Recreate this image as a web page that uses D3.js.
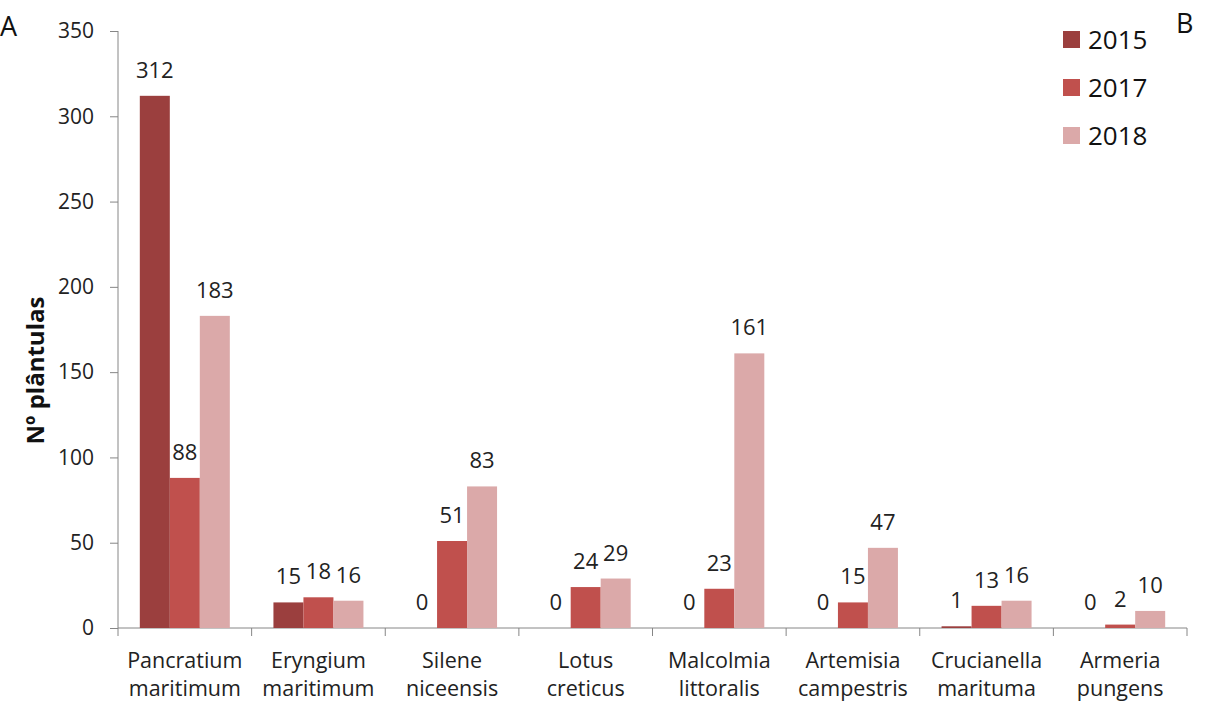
<!DOCTYPE html>
<html>
<head>
<meta charset="utf-8">
<script src="https://cdn.jsdelivr.net/npm/d3@7"></script>
<style>
  html, body { margin: 0; padding: 0; background: #fff; }
  svg { display: block; font-family: "Open Sans", sans-serif; }
</style>
</head>
<body>
<svg id="chart" width="1217" height="707"></svg>
<script>
// Seedling counts per species and survey year
const species = [
  ["Pancratium", "maritimum"],
  ["Eryngium", "maritimum"],
  ["Silene", "niceensis"],
  ["Lotus", "creticus"],
  ["Malcolmia", "littoralis"],
  ["Artemisia", "campestris"],
  ["Crucianella", "marituma"],
  ["Armeria", "pungens"]
];
const years = ["2015", "2017", "2018"];
const values2015 = [312, 15, 0, 0, 0, 0, 1, 0];
const values2017 = [88, 18, 51, 24, 23, 15, 13, 2];
const values2018 = [183, 16, 83, 29, 161, 47, 16, 10];
const yTicks = [0, 50, 100, 150, 200, 250, 300, 350];
const colors = ["#9b3f3e", "#c0504d", "#dba9a9"];

const series = [values2015, values2017, values2018];

const svg = d3.select("#chart");
const margin = { left: 118, right: 30, top: 31, bottom: 79 };
const W = 1217, H = 707;

const x = d3.scaleBand()
  .domain(d3.range(species.length))
  .range([margin.left, W - margin.right])
  .paddingInner(0).paddingOuter(0);

const bw = x.bandwidth();
const inner = d3.scaleBand()
  .domain(years)
  .range([0, bw])
  .paddingInner(0)
  .paddingOuter(0.727);

const y = d3.scaleLinear().domain([0, 350]).range([H - margin.bottom, margin.top]);

// Y axis
const yAxis = svg.append("g")
  .attr("transform", `translate(${margin.left},0)`)
  .call(d3.axisLeft(y).tickValues(yTicks).tickSize(8).tickPadding(16));
yAxis.selectAll("path, line").attr("stroke", "#868686");
yAxis.select(".domain").attr("d", `M0,${y(350)}V${y(0)}`);
yAxis.selectAll("text").attr("font-size", 21).attr("fill", "#222").attr("font-family", "'Open Sans', sans-serif");

// X axis baseline with category separators
const xg = svg.append("g");
xg.append("line")
  .attr("x1", margin.left).attr("x2", W - margin.right)
  .attr("y1", y(0)).attr("y2", y(0))
  .attr("stroke", "#868686");
const seps = d3.range(species.length + 1).map(i => i < species.length ? x(i) : x(i - 1) + bw);
xg.selectAll("line.sep").data(seps).join("line")
  .attr("class", "sep")
  .attr("x1", d => d).attr("x2", d => d)
  .attr("y1", y(0)).attr("y2", y(0) + 8)
  .attr("stroke", "#868686");

// Category labels (two lines)
const cat = svg.append("g").selectAll("text").data(species).join("text")
  .attr("x", (d, i) => x(i) + bw / 2)
  .attr("y", y(0) + 40)
  .attr("text-anchor", "middle")
  .attr("font-size", 21.5)
  .attr("fill", "#222");
cat.append("tspan").attr("x", (d, i) => x(i) + bw / 2).text(d => d[0]);
cat.append("tspan").attr("x", (d, i) => x(i) + bw / 2).attr("dy", 28).text(d => d[1]);

// Bars with value labels
const groups = svg.append("g").selectAll("g").data(series).join("g")
  .attr("fill", (d, i) => colors[i]);
groups.each(function (vals, si) {
  const g = d3.select(this);
  g.selectAll("rect").data(vals).join("rect")
    .attr("x", (d, i) => x(i) + inner(years[si]))
    .attr("width", inner.bandwidth())
    .attr("y", d => y(d))
    .attr("height", d => y(0) - y(d));
  g.selectAll("text").data(vals).join("text")
    .attr("x", (d, i) => x(i) + inner(years[si]) + inner.bandwidth() / 2)
    .attr("y", d => y(d) - 18)
    .attr("text-anchor", "middle")
    .attr("font-size", 22)
    .attr("fill", "#222")
    .text(d => d);
});

// Legend
const legend = svg.append("g").selectAll("g").data(years).join("g")
  .attr("transform", (d, i) => `translate(1063,${31 + i * 48})`);
legend.append("rect").attr("width", 17).attr("height", 17).attr("fill", (d, i) => colors[i]);
legend.append("text").attr("x", 25).attr("y", 18).attr("font-size", 26).attr("fill", "#111").text(d => d);

// Y axis title
svg.append("text")
  .attr("transform", `translate(44,${(y(0) + y(350)) / 2 + 41}) rotate(-90)`)
  .attr("text-anchor", "middle")
  .attr("font-size", 24)
  .attr("font-weight", "bold")
  .attr("fill", "#111")
  .text("Nº plântulas");

// Panel letters
svg.append("text").attr("x", 0).attr("y", 36).attr("font-size", 27).attr("fill", "#111").text("A");
svg.append("text").attr("x", 1176).attr("y", 33).attr("font-size", 27).attr("fill", "#111").text("B");
</script>
</body>
</html>
